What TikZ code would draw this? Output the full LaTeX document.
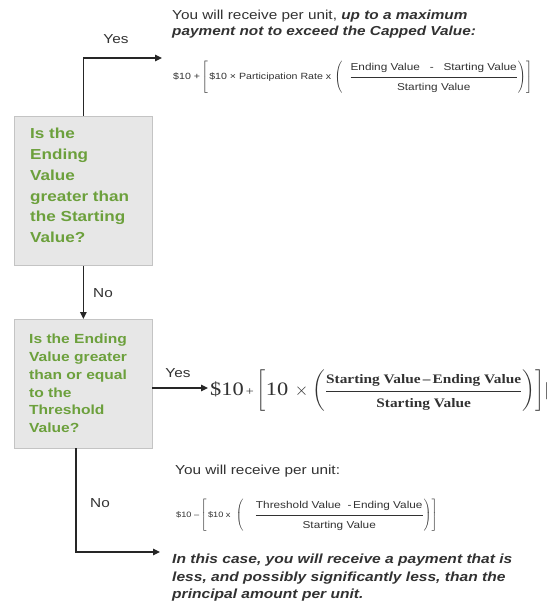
\documentclass[tikz,border=0pt]{standalone}
\usepackage{amsmath}
\usepackage{fontspec}
\setmainfont[FakeStretch=1.18]{Liberation Sans}
\newfontfamily\serifcam[FakeStretch=1.18]{Liberation Serif}
\usetikzlibrary{arrows.meta}
\definecolor{qgreen}{RGB}{108,160,60}
\definecolor{boxfill}{RGB}{231,231,231}
\definecolor{boxline}{RGB}{196,196,196}
\definecolor{txt}{RGB}{50,50,50}
\newcommand{\fsz}[1]{\fontsize{#1}{#1}\selectfont}
\newcommand{\numstrut}{\rule[-5.5pt]{0pt}{5.5pt}}
\newcommand{\denstrut}{\rule{0pt}{12.5pt}}
\begin{document}
\begin{tikzpicture}[x=1pt,y=-1pt,
  qbox/.style={draw=boxline, fill=boxfill, line width=0.8pt, anchor=north west, inner sep=0},
  qtext/.style={text=qgreen, align=left, anchor=north west, inner sep=0},
  conn/.style={line width=1.1pt, draw=black!85},
  arr/.style={conn, -{Triangle[length=7pt,width=6.5pt]}},
  lbl/.style={font=\fontsize{13}{15}\selectfont, text=txt, inner sep=0},
  body/.style={text=txt, anchor=north west, inner sep=0, align=left},
  fml/.style={text=txt, inner sep=0, anchor=west}]
\useasboundingbox (0,0) rectangle (552,601);
\fill[white] (0,0) rectangle (552,601);

% question boxes
\node[qbox, minimum width=138, minimum height=149] (q1) at (14,116) {};
\node[qbox, minimum width=138, minimum height=129] (q2) at (14,319) {};
\node[qtext, font=\bfseries\fontsize{14.5}{20.8}\selectfont] (q1t) at (30,128) {Is the\\Ending\\Value\\greater than\\the Starting\\Value?};
\node[qtext, font=\bfseries\fontsize{13.2}{17.8}\selectfont] (q2t) at (29,334) {Is the Ending\\Value greater\\than or equal\\to the\\Threshold\\Value?};

% connector end points
\coordinate (f1) at (162,58);
\coordinate (a2) at (152,388);
\coordinate (f2) at (208,388);
\coordinate (b2) at (76,448);
\coordinate (f3) at (160,552);

\draw[arr] (q1.north) |- (f1);
\draw[arr] (q1.south) -- (q2.north);
\draw[arr] (a2) -- (f2);
\draw[arr] (b2) |- (f3);

\node[lbl] (yes1) at (116,39) {Yes};
\node[lbl] (no1) at (103,293) {No};
\node[lbl] (yes2) at (178,373) {Yes};
\node[lbl] (no2) at (100,503) {No};

% top outcome
\node[body, font=\fontsize{13}{15.5}\selectfont] (t1) at (172,10) {You will receive per unit, \textbf{\textit{up to a maximum}}\\\textbf{\textit{payment not to exceed the Capped Value:}}};
\node[fml, font=\fsz{9}] (m1) at (173,77) {$\text{\$10 +}\left[\,\text{\$10 × Participation Rate x}\,\left(\hspace{7pt}\dfrac{\text{\fsz{10}Ending Value\ \ \ -\ \ \ Starting Value}\numstrut}{\text{\fsz{10}Starting Value}\denstrut}\right)\right]$};

% middle outcome
\node[fml, font=\serifcam\fontsize{19}{22}\selectfont] (m2) at (210,391) {$\text{\$10}\text{\fsz{12}\,+}\left[\text{10}\,\times\left(\dfrac{\text{\fsz{13}\bfseries Starting Value\,–\,Ending Value}}{\text{\fsz{13}\bfseries Starting Value}}\right)\right]\!|$};

% bottom outcome
\node[body, font=\fontsize{13}{15}\selectfont] (t3) at (175,465) {You will receive per unit:};
\node[fml, font=\fsz{7.8}] (m3) at (176,515) {$\text{\$10 –}\left[\,\text{\$10 x}\ \,\left(\hspace{11pt}\dfrac{\text{\fsz{10}Threshold Value\ \ -\,Ending Value}\numstrut}{\text{\fsz{10}Starting Value}\denstrut}\right)\right]$};
\node[body, font=\bfseries\itshape\fontsize{13.2}{17.5}\selectfont] (t4) at (172,554) {In this case, you will receive a payment that is\\less, and possibly significantly less, than the\\principal amount per unit.};
\end{tikzpicture}
\end{document}
